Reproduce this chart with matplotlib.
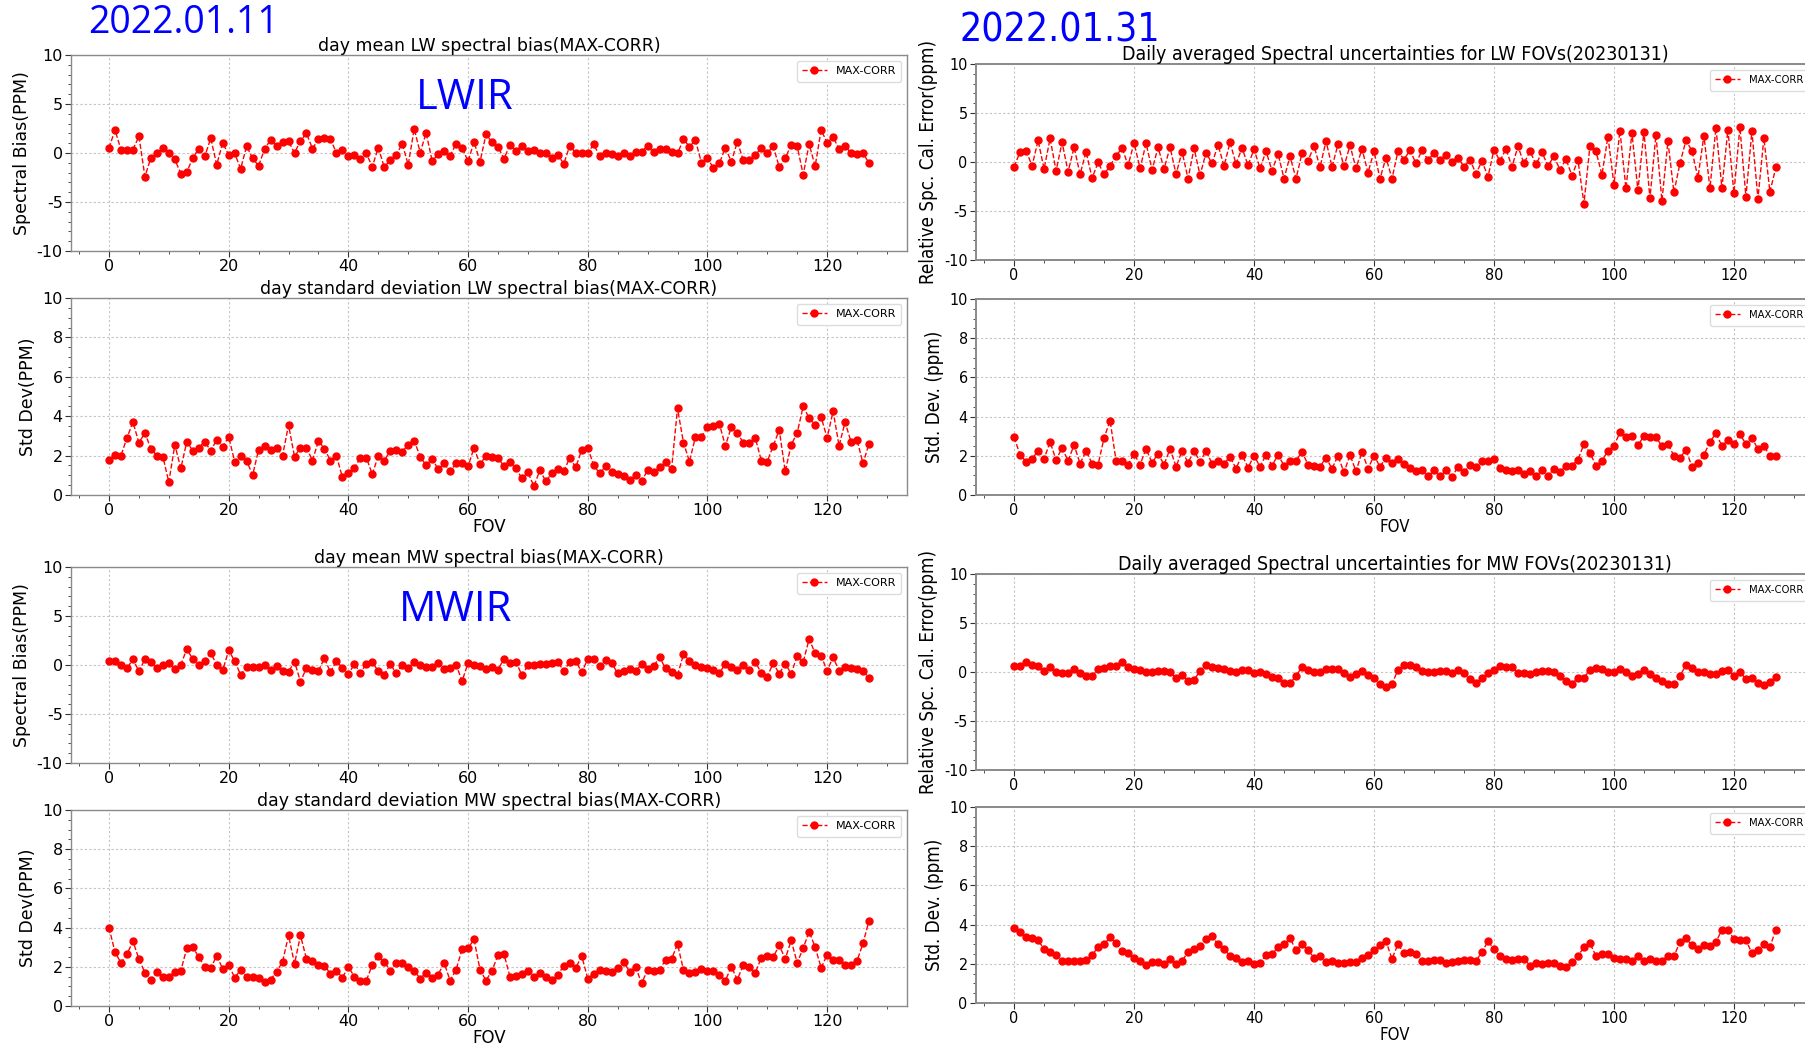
import numpy as np
import matplotlib.pyplot as plt

plt.rcParams['axes.unicode_minus'] = False

fov = np.arange(128)

# 2022.01.11 daily statistics (MAX-CORR)
lwMeanBias0111 = [
    0.5, 2.35, 0.35, 0.35, 0.35, 1.7, -2.4, -0.5, 0.0, 0.5,
    0.0, -0.65, -2.1, -1.95, -0.5, 0.45, -0.35, 1.5, -1.2, 1.05,
    -0.2, -0.05, -1.6, 0.7, -0.55, -1.3, 0.4, 1.35, 0.7, 1.1,
    1.2, 0.0, 1.25, 2.0, 0.45, 1.4, 1.5, 1.45, 0.0, 0.35,
    -0.35, -0.2, -0.65, -0.05, -1.4, 0.55, -1.45, -0.7, -0.2, 0.95,
    -1.2, 2.45, 0.05, 2.05, -0.8, -0.15, 0.25, -0.3, 0.95, 0.55,
    -0.85, 1.15, -0.9, 1.9, 1.1, 0.65, -0.6, 0.85, 0.25, 0.7,
    0.25, 0.3, 0.0, 0.0, -0.5, -0.2, -1.1, 0.75, 0.0, 0.0,
    0.0, 0.9, -0.35, 0.0, -0.15, -0.3, 0.05, -0.3, 0.1, 0.15,
    0.7, 0.1, 0.4, 0.4, 0.1, -0.05, 1.4, 0.65, 1.3, -1.0,
    -0.55, -1.5, -1.05, 0.55, -0.9, 1.15, -0.75, -0.75, -0.2, 0.5,
    0.0, 0.7, -1.45, -0.55, 0.85, 0.7, -2.2, 0.9, -1.35, 2.35,
    1.05, 1.65, 0.4, 0.75, 0.0, -0.1, -0.05, -1.0]
lwStdBias0111 = [
    1.8, 2.05, 2.0, 2.9, 3.7, 2.65, 3.15, 2.35, 2.0, 1.95,
    0.65, 2.55, 1.35, 2.7, 2.25, 2.4, 2.7, 2.25, 2.8, 2.45,
    2.95, 1.7, 2.0, 1.75, 1.0, 2.3, 2.5, 2.3, 2.4, 2.0,
    3.55, 1.95, 2.4, 2.4, 1.75, 2.75, 2.35, 1.75, 2.0, 0.9,
    1.1, 1.35, 1.9, 1.9, 1.05, 2.0, 1.75, 2.25, 2.3, 2.2,
    2.55, 2.75, 1.95, 1.5, 1.85, 1.3, 1.6, 1.2, 1.6, 1.6,
    1.45, 2.4, 1.55, 2.0, 1.95, 1.9, 1.45, 1.65, 1.35, 0.85,
    1.15, 0.45, 1.25, 0.7, 1.1, 1.3, 1.2, 1.9, 1.4, 2.3,
    2.4, 1.5, 1.1, 1.45, 1.15, 1.05, 0.95, 0.75, 1.0, 0.7,
    1.25, 1.15, 1.4, 1.65, 1.3, 4.4, 2.65, 1.7, 2.95, 2.95,
    3.45, 3.5, 3.6, 2.5, 3.45, 3.15, 2.65, 2.65, 2.9, 1.75,
    1.7, 2.5, 3.3, 1.2, 2.55, 3.15, 4.5, 3.9, 3.55, 3.95,
    2.9, 4.25, 2.5, 3.7, 2.7, 2.8, 1.6, 2.6]
mwMeanBias0111 = [
    0.4, 0.45, -0.05, -0.35, 0.6, -0.65, 0.6, 0.3, -0.35, -0.05,
    0.2, -0.45, 0.0, 1.65, 0.6, -0.05, 0.45, 1.25, 0.0, -0.55,
    1.5, 0.4, -1.0, -0.2, -0.25, -0.25, 0.05, -0.5, -0.15, -0.6,
    -0.7, 0.35, -1.7, -0.3, -0.5, -0.6, 0.7, -0.75, 0.45, -0.3,
    -0.95, 0.1, -0.8, 0.1, 0.3, -0.65, -1.0, 0.1, -0.85, 0.0,
    -0.3, 0.3, -0.05, -0.2, -0.2, 0.2, -0.4, -0.3, 0.05, -1.65,
    0.2, -0.05, -0.15, -0.45, -0.2, -0.5, 0.65, 0.2, 0.35, -1.05,
    -0.05, 0.05, 0.1, 0.1, 0.2, 0.3, -0.6, 0.3, 0.4, -0.75,
    0.6, 0.65, -0.1, 0.5, 0.2, -0.85, -0.6, -0.45, -0.65, 0.1,
    -0.45, -0.15, 0.8, -0.35, -0.75, -1.05, 1.1, 0.45, 0.05, -0.2,
    -0.3, -0.5, -0.85, 0.15, -0.25, -0.5, 0.05, -0.5, 0.3, -0.8,
    -1.2, 0.2, -0.9, 0.15, -0.9, 0.95, 0.3, 2.65, 1.2, 0.95,
    -0.6, 0.8, -0.6, -0.2, -0.3, -0.4, -0.6, -1.35]
mwStdBias0111 = [
    4.0, 2.75, 2.2, 2.65, 3.3, 2.4, 1.7, 1.35, 1.75, 1.5,
    1.5, 1.75, 1.8, 2.95, 3.0, 2.5, 2.0, 1.95, 2.55, 1.9,
    2.1, 1.45, 1.85, 1.5, 1.5, 1.45, 1.2, 1.35, 1.75, 2.25,
    3.6, 2.15, 3.6, 2.4, 2.3, 2.1, 2.05, 1.65, 1.8, 1.45,
    2.0, 1.5, 1.3, 1.3, 2.1, 2.55, 2.25, 1.8, 2.2, 2.2,
    2.0, 1.8, 1.4, 1.7, 1.45, 1.6, 2.2, 1.3, 1.85, 2.9,
    2.95, 3.4, 1.85, 1.3, 1.8, 2.6, 2.65, 1.5, 1.55, 1.65,
    1.8, 1.5, 1.7, 1.5, 1.35, 1.6, 2.05, 2.2, 1.95, 2.55,
    1.4, 1.65, 1.85, 1.8, 1.75, 1.95, 2.25, 1.75, 2.0, 1.15,
    1.85, 1.8, 1.85, 2.35, 2.4, 3.15, 1.85, 1.7, 1.75, 1.9,
    1.8, 1.8, 1.6, 1.3, 2.0, 1.35, 2.1, 2.0, 1.7, 2.45,
    2.55, 2.5, 3.1, 2.4, 3.35, 2.2, 2.95, 3.8, 3.0, 1.95,
    2.6, 2.35, 2.35, 2.1, 2.1, 2.3, 3.2, 4.35]

# 2022.01.31 daily statistics (MAX-CORR)
lwMeanErr0131 = [
    -0.5, 1.05, 1.15, -0.4, 2.2, -0.7, 2.4, -0.9, 2.0, -1.0,
    1.5, -1.25, 1.05, -1.65, -0.05, -1.25, -0.4, 0.6, 1.45, -0.35,
    1.95, -0.65, 1.9, -0.8, 1.5, -0.7, 1.5, -1.25, 1.05, -1.7,
    1.4, -1.35, 0.95, -0.15, 1.75, -0.4, 2.0, -0.2, 1.45, -0.35,
    1.3, -0.65, 1.1, -0.9, 0.85, -1.7, 0.6, -1.7, 0.9, 0.1,
    1.65, -0.55, 2.15, -0.5, 1.8, -0.45, 1.7, -0.65, 1.35, -1.1,
    1.1, -1.7, 0.45, -1.7, 1.1, 0.25, 1.2, -0.15, 1.2, 0.2,
    0.9, 0.2, 0.75, 0.05, 0.45, -0.5, 0.25, -1.2, 0.1, -1.5,
    1.25, 0.1, 1.35, -0.5, 1.6, -0.15, 1.1, -0.25, 1.0, -0.4,
    0.6, -0.8, 0.3, -1.4, 0.2, -4.25, 1.65, 1.1, -1.3, 2.6,
    -2.3, 3.2, -2.7, 2.95, -2.9, 3.1, -3.7, 2.75, -3.95, 2.1,
    -3.1, -0.15, 2.2, 1.15, -1.6, 2.7, -2.7, 3.5, -2.65, 3.3,
    -3.15, 3.55, -3.55, 3.15, -3.75, 2.45, -3.05, -0.55]
lwStdErr0131 = [
    2.95, 2.05, 1.7, 1.85, 2.25, 1.85, 2.7, 1.8, 2.4, 1.75,
    2.55, 1.6, 2.25, 1.6, 1.55, 2.9, 3.8, 1.75, 1.75, 1.55,
    2.1, 1.55, 2.35, 1.65, 2.1, 1.55, 2.35, 1.45, 2.25, 1.65,
    2.25, 1.7, 2.25, 1.6, 1.75, 1.6, 1.95, 1.35, 2.05, 1.4,
    2.0, 1.45, 2.05, 1.5, 2.05, 1.5, 1.75, 1.75, 2.2, 1.55,
    1.5, 1.45, 1.9, 1.35, 2.0, 1.15, 2.05, 1.2, 2.2, 1.35,
    2.0, 1.45, 1.9, 1.65, 1.85, 1.6, 1.4, 1.2, 1.3, 0.95,
    1.25, 0.95, 1.25, 0.9, 1.45, 1.15, 1.55, 1.45, 1.75, 1.75,
    1.85, 1.4, 1.3, 1.2, 1.3, 1.05, 1.2, 0.95, 1.25, 0.95,
    1.35, 1.15, 1.5, 1.5, 1.8, 2.6, 2.15, 1.5, 1.75, 2.25,
    2.5, 3.2, 2.95, 3.0, 2.55, 3.0, 2.95, 2.95, 2.5, 2.6,
    2.0, 1.9, 2.3, 1.45, 1.65, 2.05, 2.7, 3.15, 2.5, 2.8,
    2.6, 3.1, 2.6, 2.9, 2.35, 2.5, 2.0, 2.0]
mwMeanErr0131 = [
    0.65, 0.6, 1.0, 0.7, 0.6, 0.15, 0.5, 0.05, -0.1, -0.15,
    0.35, -0.15, -0.45, -0.45, 0.3, 0.45, 0.6, 0.65, 1.05, 0.5,
    0.3, 0.25, 0.05, 0.05, 0.15, 0.15, 0.0, -0.6, -0.3, -0.9,
    -0.85, 0.15, 0.75, 0.55, 0.45, 0.3, 0.1, 0.05, 0.25, 0.2,
    -0.1, 0.05, -0.25, -0.5, -0.65, -1.15, -1.15, -0.4, 0.5, 0.25,
    -0.05, -0.05, 0.3, 0.3, 0.35, -0.15, -0.55, -0.2, 0.15, -0.35,
    -0.6, -1.25, -1.5, -1.25, 0.25, 0.75, 0.7, 0.5, 0.15, 0.0,
    0.0, 0.15, 0.15, -0.15, 0.2, -0.15, -0.7, -1.15, -0.65, -0.15,
    0.25, 0.6, 0.55, 0.5, -0.1, -0.1, -0.25, 0.05, 0.15, 0.15,
    0.0, -0.45, -0.9, -1.2, -0.6, -0.6, 0.25, 0.45, 0.35, -0.05,
    -0.05, 0.35, 0.05, -0.4, -0.2, 0.25, -0.2, -0.6, -0.9, -1.25,
    -1.25, -0.4, 0.7, 0.45, 0.05, 0.0, -0.2, -0.2, 0.15, 0.2,
    -0.4, 0.05, -0.75, -0.65, -1.1, -1.35, -1.05, -0.55]
mwStdErr0131 = [
    3.85, 3.6, 3.35, 3.3, 3.2, 2.75, 2.6, 2.45, 2.15, 2.15,
    2.15, 2.15, 2.2, 2.45, 2.85, 3.0, 3.35, 3.05, 2.65, 2.55,
    2.3, 2.15, 1.95, 2.1, 2.1, 2.0, 2.25, 2.0, 2.15, 2.6,
    2.75, 2.9, 3.25, 3.4, 3.0, 2.75, 2.4, 2.3, 2.1, 2.15,
    2.0, 2.05, 2.45, 2.5, 2.85, 3.0, 3.3, 2.7, 3.0, 2.7,
    2.3, 2.4, 2.1, 2.15, 2.05, 2.05, 2.1, 2.1, 2.3, 2.45,
    2.7, 2.95, 3.15, 2.25, 3.0, 2.55, 2.6, 2.5, 2.15, 2.15,
    2.2, 2.2, 2.05, 2.1, 2.15, 2.2, 2.2, 2.15, 2.6, 3.15,
    2.75, 2.4, 2.25, 2.2, 2.25, 2.25, 1.9, 2.05, 2.0, 2.05,
    2.05, 1.9, 1.85, 2.1, 2.4, 2.85, 3.05, 2.4, 2.5, 2.5,
    2.3, 2.25, 2.25, 2.15, 2.4, 2.15, 2.25, 2.15, 2.15, 2.4,
    2.4, 3.1, 3.3, 2.95, 2.75, 2.95, 2.9, 3.1, 3.75, 3.75,
    3.25, 3.2, 3.2, 2.55, 2.7, 3.0, 2.85, 3.75]

figW, figH = 1805, 1045


def pixRect(left, top, right, bottom):
    # axes rectangle from pixel edges measured from the top-left corner
    return [left / figW, 1 - bottom / figH, (right - left) / figW, (bottom - top) / figH]


def drawPanel(fig, rect, values, yLimits, yStep, ylabel, title=None, xlabel=None, narrow=False):
    # the 01.31 panels use condensed lettering and slightly larger labels
    stretch = 'condensed' if narrow else 'normal'
    ax = fig.add_axes(rect)
    ax.plot(fov, values, 'r--o', markersize=5, linewidth=1, label='MAX-CORR')

    ax.set_ylim(*yLimits)
    ax.set_yticks(np.arange(yLimits[0], yLimits[1] + 1, yStep))
    ax.set_xticks(np.arange(0, 121, 20))
    ax.minorticks_on()
    ax.grid(True, which='major', color='#c4c4c4', linestyle=(0, (2, 2)), linewidth=0.8)
    ax.tick_params(which='major', labelsize=11.5, length=4, pad=2, color='#333333')
    ax.tick_params(which='minor', length=2, color='#333333')
    for lab in ax.get_xticklabels() + ax.get_yticklabels():
        lab.set_fontstretch(stretch)
    for sp in ax.spines.values():
        sp.set_color('#8a8a8a')
        sp.set_linewidth(1.4 if narrow else 1.0)

    ax.set_ylabel(ylabel, fontsize=13.5 if narrow else 12.5, fontstretch=stretch)
    if title:
        ax.set_title(title, fontsize=14 if narrow else 12.5, fontstretch=stretch, pad=3)
    if xlabel:
        ax.set_xlabel(xlabel, fontsize=12, fontstretch=stretch, labelpad=0)

    ax.legend(loc='upper right', prop={'size': 8, 'stretch': stretch}, handlelength=2.2,
              borderpad=0.5, framealpha=1, edgecolor='#dddddd')
    return ax


fig = plt.figure(figsize=(figW / 100, figH / 100), dpi=100)

leftX, leftX1 = 71, 907
drawPanel(fig, pixRect(leftX, 55, leftX1, 251), lwMeanBias0111, (-10, 10), 5,
          'Spectral Bias(PPM)', title='day mean LW spectral bias(MAX-CORR)')
drawPanel(fig, pixRect(leftX, 298, leftX1, 495), lwStdBias0111, (0, 10), 2,
          'Std Dev(PPM)', title='day standard deviation LW spectral bias(MAX-CORR)', xlabel='FOV')
drawPanel(fig, pixRect(leftX, 567, leftX1, 763), mwMeanBias0111, (-10, 10), 5,
          'Spectral Bias(PPM)', title='day mean MW spectral bias(MAX-CORR)')
drawPanel(fig, pixRect(leftX, 810, leftX1, 1006), mwStdBias0111, (0, 10), 2,
          'Std Dev(PPM)', title='day standard deviation MW spectral bias(MAX-CORR)', xlabel='FOV')

rightX, rightX1 = 976, 1814
drawPanel(fig, pixRect(rightX, 64, rightX1, 260), lwMeanErr0131, (-10, 10), 5,
          'Relative Spc. Cal. Error(ppm)',
          title='Daily averaged Spectral uncertainties for LW FOVs(20230131)', narrow=True)
drawPanel(fig, pixRect(rightX, 299, rightX1, 495), lwStdErr0131, (0, 10), 2,
          'Std. Dev. (ppm)', xlabel='FOV', narrow=True)
drawPanel(fig, pixRect(rightX, 574, rightX1, 770), mwMeanErr0131, (-10, 10), 5,
          'Relative Spc. Cal. Error(ppm)',
          title='Daily averaged Spectral uncertainties for MW FOVs(20230131)', narrow=True)
drawPanel(fig, pixRect(rightX, 807, rightX1, 1003), mwStdErr0131, (0, 10), 2,
          'Std. Dev. (ppm)', xlabel='FOV', narrow=True)

# date stamps and band names
fig.text(184 / figW, 1 - 23 / figH, '2022.01.11', color='blue', fontsize=27,
         family='Open Sans', ha='center', va='center')
fig.text(1060 / figW, 1 - 30 / figH, '2022.01.31', color='blue', fontsize=28,
         family='DejaVu Sans', fontstretch='condensed', ha='center', va='center')
fig.text(465 / figW, 1 - 98 / figH, 'LWIR', color='blue', fontsize=30,
         family='Open Sans', ha='center', va='center')
fig.text(456 / figW, 1 - 610 / figH, 'MWIR', color='blue', fontsize=30,
         family='Open Sans', ha='center', va='center')

fig.savefig('out.png', dpi=100)
